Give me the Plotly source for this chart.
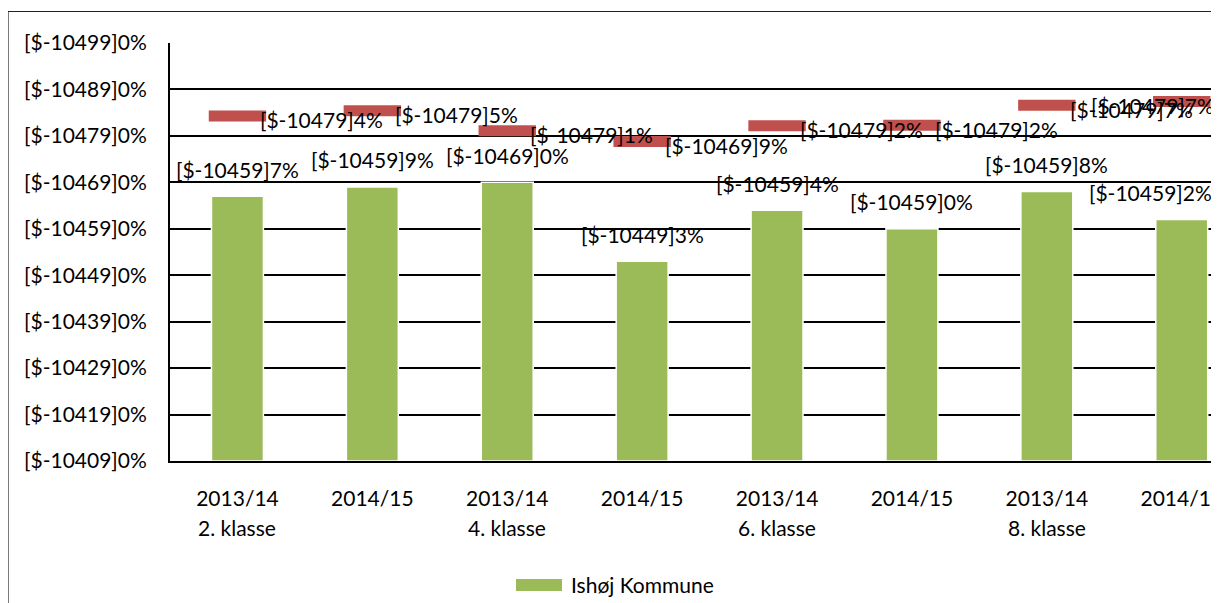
import plotly.graph_objects as go

# ---- data ----
x_pos = [0, 1, 2, 3, 4, 5, 6, 7]
years = ["2013/14", "2014/15", "2013/14", "2014/15", "2013/14", "2014/15", "2013/14", "2014/15"]
grades = ["2. klasse", "4. klasse", "6. klasse", "8. klasse"]
grade_pos = [0, 2, 4, 6]
ishoj = [57, 59, 60, 43, 54, 50, 58, 52]
landsgns = [74.3, 75.4, 71.1, 68.8, 72.2, 72.3, 76.6, 77.4]
y_ticks = [0, 10, 20, 30, 40, 50, 60, 70, 80, 90]


def fmt(v):
    v = int(round(v))
    return f"[$-104{v // 10}9]{v % 10}%"


y_ticktext = [fmt(v) for v in y_ticks]

FONT = "Lato, 'Open Sans', sans-serif"
FS = 21
GREEN = "#9BBB59"
RED = "#C0504D"

PLOT_W = 1043
PLOT_H = 418

fig = go.Figure()

fig.add_trace(go.Bar(
    x=x_pos, y=ishoj, width=0.385,
    marker=dict(color=GREEN, line=dict(color="white", width=1.5)),
    name="Ishøj Kommune", showlegend=False, hoverinfo="skip",
))

fig.add_trace(go.Scatter(
    x=x_pos, y=landsgns, mode="markers",
    marker=dict(symbol="line-ew", size=41, line=dict(color=RED, width=11)),
    showlegend=False, hoverinfo="skip",
))

annotations = []
bar_xshift = [0, 0, 0, 0, 0, 0, 0, -31]
for i, (x, v) in enumerate(zip(x_pos, ishoj)):
    annotations.append(dict(
        x=x, y=v, xref="x", yref="y", text=fmt(v), showarrow=False,
        xanchor="center", yanchor="middle", yshift=27, xshift=bar_xshift[i],
        font=dict(family=FONT, size=FS, color="black"),
    ))
red_xshift = [21, 21, 21, 21, 21, 21, 21, -93]
for i, (x, v) in enumerate(zip(x_pos, landsgns)):
    annotations.append(dict(
        x=x, y=v, xref="x", yref="y", text=fmt(v), showarrow=False,
        xanchor="left", yanchor="middle", yshift=-4, xshift=red_xshift[i],
        font=dict(family=FONT, size=FS, color="black"),
    ))
for g, gx in zip(grades, grade_pos):
    annotations.append(dict(
        x=gx, y=-66 / PLOT_H, xref="x", yref="paper", text=g, showarrow=False,
        xanchor="center", yanchor="middle",
        font=dict(family=FONT, size=FS, color="black"),
    ))
# legend text
annotations.append(dict(
    x=(569 - 170) / PLOT_W, y=-(584 - 461) / PLOT_H, xref="paper", yref="paper",
    text="Ishøj Kommune", showarrow=False, xanchor="left", yanchor="middle",
    font=dict(family=FONT, size=FS, color="black"),
))

shapes = [
    # chart-area border
    dict(type="rect", xref="paper", yref="paper",
         x0=(8 - 170) / PLOT_W, x1=(1240 - 170) / PLOT_W,
         y0=(461 - 640) / PLOT_H, y1=(461 - 11.5) / PLOT_H,
         line=dict(color="#222222", width=1.2), fillcolor="rgba(0,0,0,0)",
         layer="below"),
    # legend swatch
    dict(type="rect", xref="paper", yref="paper",
         x0=(516 - 170) / PLOT_W, x1=(562 - 170) / PLOT_W,
         y0=(461 - 591) / PLOT_H, y1=(461 - 579) / PLOT_H,
         line=dict(width=0), fillcolor=GREEN),
]

fig.update_layout(
    width=1211, height=595,
    margin=dict(l=162, r=6, t=35, b=142, autoexpand=False),
    paper_bgcolor="white", plot_bgcolor="white",
    font=dict(family=FONT, size=FS, color="black"),
    showlegend=False,
    annotations=annotations,
    shapes=shapes,
    xaxis=dict(
        range=[-0.5, -0.5 + PLOT_W / 134.9],
        tickmode="array", tickvals=x_pos, ticktext=years,
        showgrid=False, zeroline=False,
        showline=True, linecolor="black", linewidth=2,
        ticks="", ticklabelstandoff=18, ticklabeloverflow="allow",
        tickfont=dict(family=FONT, size=FS, color="black"),
        automargin=False, fixedrange=True,
    ),
    yaxis=dict(
        range=[0, 90],
        tickmode="array", tickvals=y_ticks, ticktext=y_ticktext,
        showgrid=True, gridcolor="black", gridwidth=1.6,
        zeroline=False,
        showline=True, linecolor="black", linewidth=2,
        ticks="", ticklabelstandoff=17,
        tickfont=dict(family=FONT, size=FS, color="black"),
        automargin=False, fixedrange=True,
    ),
)

fig.write_html("out.html")
